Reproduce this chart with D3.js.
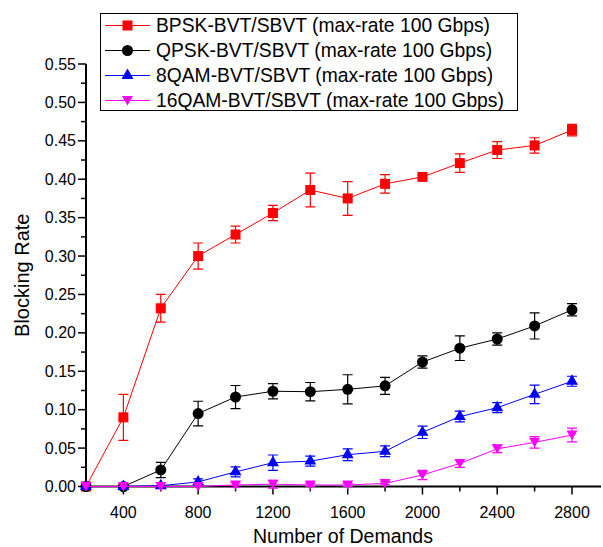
<!DOCTYPE html>
<html>
<head>
<meta charset="utf-8">
<script src="https://cdn.jsdelivr.net/npm/d3@7"></script>
<style>
  body { margin: 0; background: #fff; }
  svg { display: block; font-family: "Liberation Sans", Arial, sans-serif; }
</style>
</head>
<body>
<div id="chart"></div>
<script>
const WIDTH = 603;
const HEIGHT = 547;

// number of demands
const demands = [200, 400, 600, 800, 1000, 1200, 1400, 1600, 1800, 2000, 2200, 2400, 2600, 2800];

// blocking rate values
const bpsk = [0, 0.090, 0.232, 0.300, 0.328, 0.356, 0.386, 0.375, 0.394, 0.403, 0.421, 0.438, 0.444, 0.464];
const bpskErr = [0, 0.030, 0.018, 0.017, 0.011, 0.010, 0.022, 0.022, 0.012, 0.002, 0.012, 0.011, 0.010, 0.0075];
const qpsk = [0, 0, 0.0215, 0.095, 0.1165, 0.124, 0.1234, 0.1265, 0.131, 0.162, 0.180, 0.192, 0.209, 0.230];
const qpskErr = [0, 0, 0.010, 0.016, 0.015, 0.010, 0.012, 0.019, 0.011, 0.008, 0.016, 0.008, 0.017, 0.008];
const qam8 = [0, 0, 0.001, 0.006, 0.019, 0.031, 0.033, 0.0414, 0.0458, 0.0705, 0.091, 0.1026, 0.120, 0.137];
const qam8Err = [0, 0, 0.001, 0.004, 0.0065, 0.010, 0.0065, 0.0076, 0.007, 0.008, 0.007, 0.0065, 0.012, 0.0065];
const qam16 = [0, 0, 0, 0, 0.002, 0.003, 0.002, 0.002, 0.004, 0.015, 0.030, 0.049, 0.0575, 0.067];
const qam16Err = [0, 0, 0, 0, 0.003, 0.005, 0.002, 0.002, 0.002, 0.006, 0.005, 0.005, 0.0075, 0.009];

const seriesNames = [
  "BPSK-BVT/SBVT (max-rate 100 Gbps)",
  "QPSK-BVT/SBVT (max-rate 100 Gbps)",
  "8QAM-BVT/SBVT (max-rate 100 Gbps)",
  "16QAM-BVT/SBVT (max-rate 100 Gbps)"
];
const seriesColors = ["#ff0000", "#000000", "#0000ff", "#ff00ff"];
const seriesSymbols = ["square", "circle", "triangle", "triangleDown"];

const xTicks = [400, 800, 1200, 1600, 2000, 2400, 2800];
const yTicks = [0, 0.05, 0.10, 0.15, 0.20, 0.25, 0.30, 0.35, 0.40, 0.45, 0.50, 0.55];

const series = [
  { values: bpsk, err: bpskErr },
  { values: qpsk, err: qpskErr },
  { values: qam8, err: qam8Err },
  { values: qam16, err: qam16Err }
].map((s, i) => ({
  name: seriesNames[i],
  color: seriesColors[i],
  symbol: seriesSymbols[i],
  points: demands.map((d, j) => ({ x: d, y: s.values[j], e: s.err[j] }))
}));

const x = d3.scaleLinear().domain([200, 2800]).range([86, 572]);
const y = d3.scaleLinear().domain([0, 0.55]).range([486.5, 64]);

const svg = d3.select('#chart').append('svg')
  .attr('width', WIDTH)
  .attr('height', HEIGHT);

// marker shapes
function symbolPath(type) {
  if (type === 'square') return d3.symbol(d3.symbolSquare, 100)();
  if (type === 'circle') return d3.symbol(d3.symbolCircle, 95)();
  if (type === 'triangle') return d3.symbol(d3.symbolTriangle, 62)();
  // down pointing triangle
  return 'M-5.5,-4.5 L5.5,-4.5 L0,5 Z';
}

// x axis
const xAxisG = svg.append('g').attr('transform', 'translate(0,' + y(0) + ')');
xAxisG.append('line')
  .attr('x1', x(200) - 1).attr('x2', 601)
  .attr('stroke', '#000').attr('stroke-width', 2);
const xMinor = d3.range(200, 2961, 200);
xAxisG.selectAll('.xminor')
  .data(xMinor)
  .enter()
  .append('line')
  .attr('x1', d => x(d)).attr('x2', d => x(d))
  .attr('y1', 0).attr('y2', d => (xTicks.includes(d) ? 8 : 5))
  .attr('stroke', '#000').attr('stroke-width', 1.5);
xAxisG.selectAll('.xlabel')
  .data(xTicks)
  .enter()
  .append('text')
  .attr('x', d => x(d))
  .attr('y', 31)
  .attr('text-anchor', 'middle')
  .style('font-size', '16px')
  .text(d => d);

// y axis
const yAxisG = svg.append('g').attr('transform', 'translate(' + x(200) + ',0)');
yAxisG.append('line')
  .attr('y1', y(0.55)).attr('y2', y(0) + 1)
  .attr('stroke', '#000').attr('stroke-width', 2);
const yMinor = d3.range(0, 0.551, 0.025);
yAxisG.selectAll('.yminor')
  .data(yMinor)
  .enter()
  .append('line')
  .attr('x1', 0)
  .attr('x2', (d, i) => (i % 2 === 0 ? -8 : -5))
  .attr('y1', d => y(d)).attr('y2', d => y(d))
  .attr('stroke', '#000').attr('stroke-width', 1.5);
yAxisG.selectAll('.ylabel')
  .data(yTicks)
  .enter()
  .append('text')
  .attr('x', -10)
  .attr('y', d => y(d))
  .attr('dy', '0.35em')
  .attr('text-anchor', 'end')
  .style('font-size', '16px')
  .text(d => d.toFixed(2));

// axis titles
svg.append('text')
  .attr('x', (x(200) + 600) / 2)
  .attr('y', 543)
  .attr('text-anchor', 'middle')
  .style('font-size', '19.5px')
  .text('Number of Demands');
svg.append('text')
  .attr('transform', 'translate(29,' + (y(0.275)) + ') rotate(-90)')
  .attr('text-anchor', 'middle')
  .style('font-size', '20px')
  .text('Blocking Rate');

// series
const line = d3.line().x(d => x(d.x)).y(d => y(d.y));
const groups = svg.selectAll('.series')
  .data(series)
  .enter()
  .append('g')
  .attr('class', 'series');

groups.append('path')
  .attr('d', d => line(d.points))
  .attr('fill', 'none')
  .attr('stroke', d => d.color)
  .attr('stroke-width', 1);

// error bars and markers
groups.each(function (s) {
  const g = d3.select(this);
  const bars = s.points.filter(p => p.e > 0.001);
  g.selectAll('.err')
    .data(bars)
    .enter()
    .append('path')
    .attr('d', p => {
      const cx = x(p.x), y1 = y(p.y + p.e), y2 = y(p.y - p.e);
      return 'M' + (cx - 5) + ',' + y1 + 'H' + (cx + 5) +
        'M' + cx + ',' + y1 + 'V' + y2 +
        'M' + (cx - 5) + ',' + y2 + 'H' + (cx + 5);
    })
    .attr('fill', 'none')
    .attr('stroke', s.color)
    .attr('stroke-width', 1.2);
  g.selectAll('.pt')
    .data(s.points)
    .enter()
    .append('path')
    .attr('transform', p => 'translate(' + x(p.x) + ',' + y(p.y) + ')')
    .attr('d', symbolPath(s.symbol))
    .attr('fill', s.color);
});

// legend
const legend = svg.append('g');
legend.append('rect')
  .attr('x', 100.5).attr('y', 13.5)
  .attr('width', 417).attr('height', 97)
  .attr('fill', '#fff')
  .attr('stroke', '#000')
  .attr('stroke-width', 1);
const items = legend.selectAll('.item')
  .data(series)
  .enter()
  .append('g')
  .attr('transform', (d, i) => 'translate(0,' + (25.5 + i * 25) + ')');
items.append('line')
  .attr('x1', 105).attr('x2', 150)
  .attr('stroke', d => d.color).attr('stroke-width', 1);
items.append('path')
  .attr('transform', 'translate(127.5,0)')
  .attr('d', d => symbolPath(d.symbol))
  .attr('fill', d => d.color);
items.append('text')
  .attr('x', 156)
  .attr('dy', '0.35em')
  .style('font-size', '19.3px')
  .text(d => d.name);
</script>
</body>
</html>
